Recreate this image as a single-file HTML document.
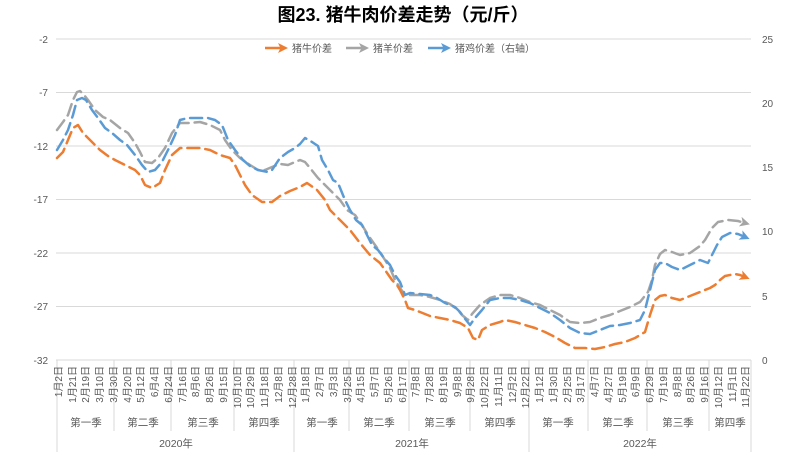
<!DOCTYPE html>
<html><head><meta charset="utf-8"><style>
body{margin:0;background:#fff;}
svg{display:block;font-family:"Liberation Sans","Noto Sans CJK SC",sans-serif;}
</style></head><body>
<svg width="807" height="464" viewBox="0 0 807 464" xmlns="http://www.w3.org/2000/svg">
<defs>
<marker id="ao" markerWidth="4" markerHeight="4" refX="2" refY="2" orient="auto" markerUnits="strokeWidth"><path d="M0,0 L4,2 L0,4 L1,2 z" fill="#ED7D31"/></marker>
<marker id="ag" markerWidth="4" markerHeight="4" refX="2" refY="2" orient="auto" markerUnits="strokeWidth"><path d="M0,0 L4,2 L0,4 L1,2 z" fill="#A5A5A5"/></marker>
<marker id="ab" markerWidth="4" markerHeight="4" refX="2" refY="2" orient="auto" markerUnits="strokeWidth"><path d="M0,0 L4,2 L0,4 L1,2 z" fill="#5B9BD5"/></marker>
</defs>
<text x="403" y="21" text-anchor="middle" font-size="18" font-weight="bold" fill="#000">图23. 猪牛肉价差走势（元/斤）</text>
<g stroke="#d9d9d9" stroke-width="1">
<line x1="56" y1="39" x2="751" y2="39"/><line x1="56" y1="92.5" x2="751" y2="92.5"/><line x1="56" y1="146" x2="751" y2="146"/><line x1="56" y1="199.5" x2="751" y2="199.5"/><line x1="56" y1="253" x2="751" y2="253"/><line x1="56" y1="306.5" x2="751" y2="306.5"/><line x1="56" y1="360" x2="751" y2="360"/>
<line x1="57" y1="360" x2="57" y2="452"/><line x1="294" y1="360" x2="294" y2="452"/><line x1="529" y1="360" x2="529" y2="452"/><line x1="751" y1="360" x2="751" y2="452"/>
<line x1="114" y1="360" x2="114" y2="431"/><line x1="171" y1="360" x2="171" y2="431"/><line x1="234" y1="360" x2="234" y2="431"/><line x1="349" y1="360" x2="349" y2="431"/><line x1="409" y1="360" x2="409" y2="431"/><line x1="470" y1="360" x2="470" y2="431"/><line x1="588" y1="360" x2="588" y2="431"/><line x1="647" y1="360" x2="647" y2="431"/><line x1="709" y1="360" x2="709" y2="431"/>
</g>
<g font-size="10" fill="#595959" text-anchor="end">
<text x="48" y="43">-2</text><text x="48" y="96">-7</text><text x="48" y="150">-12</text><text x="48" y="203">-17</text><text x="48" y="257">-22</text><text x="48" y="310">-27</text><text x="48" y="364">-32</text>
</g>
<g font-size="10" fill="#595959">
<text x="762" y="43">25</text><text x="762" y="107">20</text><text x="762" y="171">15</text><text x="762" y="235">10</text><text x="762" y="300">5</text><text x="762" y="364">0</text>
</g>
<g font-size="10.5" fill="#595959" text-anchor="middle">
<text x="86" y="426">第一季</text><text x="143" y="426">第二季</text><text x="203" y="426">第三季</text><text x="264" y="426">第四季</text>
<text x="322" y="426">第一季</text><text x="379" y="426">第二季</text><text x="440" y="426">第三季</text><text x="500" y="426">第四季</text>
<text x="558" y="426">第一季</text><text x="618" y="426">第二季</text><text x="678" y="426">第三季</text><text x="730" y="426">第四季</text>
<text x="176" y="447">2020年</text><text x="412" y="447">2021年</text><text x="640" y="447">2022年</text>
</g>
<g fill="none" stroke-width="2.5" stroke-dasharray="12,6" stroke-linecap="round" stroke-linejoin="round">
<polyline stroke="#A5A5A5" marker-end="url(#ag)" points="57,130 63,122 68,115 73,100 77,92 80,91 84,95 88,100 95,110 103,117 110,120 120,128 128,133 135,143 140,152 145,162 152,163 158,158 165,148 172,133 180,123 190,123 200,122 210,125 220,130 225,140 232,150 240,158 250,165 258,170 265,170 272,167 280,164 288,165 295,162 300,160 305,162 310,168 318,178 325,185 330,190 335,195 340,200 347,210 355,215 362,225 368,235 375,245 380,252 385,260 390,268 395,280 400,288 405,295 412,295 420,295 430,297 440,300 450,304 458,310 462,315 468,320 472,314 480,305 490,298 500,295 510,295 520,298 530,302 540,305 550,310 560,315 570,322 580,323 590,322 600,318 610,315 620,311 630,307 640,302 648,292 652,280 655,265 660,254 665,250 672,252 680,255 690,253 700,246 705,240 712,228 718,222 728,220 738,221 745,223"/>
<polyline stroke="#5B9BD5" marker-end="url(#ab)" points="57,150 63,140 68,130 73,115 77,100 82,98 86,100 92,110 98,118 105,128 112,133 120,140 127,145 135,155 142,165 148,172 155,170 162,162 168,150 175,135 180,120 188,118 198,118 208,118 215,120 222,125 228,140 235,150 243,160 250,166 258,170 268,172 272,170 280,158 288,152 295,148 300,144 305,138 312,142 318,146 322,160 328,170 333,180 338,183 345,200 350,210 356,220 362,225 367,235 372,245 378,250 384,258 390,265 395,275 400,282 405,295 410,293 420,294 430,295 437,298 445,303 455,307 460,312 466,320 470,325 475,318 482,310 490,300 500,298 510,298 520,300 530,303 540,308 550,313 560,320 570,328 580,333 590,334 600,330 610,326 620,325 630,323 640,320 645,310 650,290 655,270 660,263 665,263 672,267 680,270 690,265 700,260 708,263 712,255 717,245 722,237 730,233 738,234 745,237"/>
<polyline stroke="#ED7D31" marker-end="url(#ao)" points="57,158 63,152 68,140 73,128 78,125 83,133 90,140 100,150 108,156 115,160 125,165 135,170 140,175 145,185 152,188 160,183 165,170 172,155 180,148 190,148 200,148 210,150 220,155 230,158 235,165 240,175 245,185 252,195 262,202 272,202 280,196 290,191 300,187 307,183 317,190 325,200 330,210 340,220 350,230 360,243 370,255 380,263 385,270 392,280 397,285 400,290 405,300 408,308 415,310 420,312 430,316 440,318 450,320 460,323 468,328 473,338 478,340 482,330 490,325 500,322 505,320 515,322 525,325 535,328 545,332 555,337 565,343 575,348 585,348 595,349 605,347 615,344 625,342 635,338 645,332 650,315 655,300 660,296 665,295 672,298 680,300 690,296 700,292 705,290 710,288 715,285 720,280 725,276 735,274 740,275 745,277"/>
</g>
<g font-size="10" fill="#595959">
<line x1="265" y1="48" x2="283" y2="48" stroke="#ED7D31" stroke-width="2.5" marker-end="url(#ao)"/>
<text x="292" y="52">猪牛价差</text>
<line x1="346" y1="48" x2="364" y2="48" stroke="#A5A5A5" stroke-width="2.5" marker-end="url(#ag)"/>
<text x="373" y="52">猪羊价差</text>
<line x1="428" y1="48" x2="446" y2="48" stroke="#5B9BD5" stroke-width="2.5" marker-end="url(#ab)"/>
<text x="455" y="52">猪鸡价差（右轴）</text>
</g>
<g font-size="10" fill="#595959" text-anchor="end">
<text transform="translate(62,366) rotate(-90)">1月2日</text>
<text transform="translate(76,366) rotate(-90)">1月21日</text>
<text transform="translate(89,366) rotate(-90)">2月19日</text>
<text transform="translate(103,366) rotate(-90)">3月10日</text>
<text transform="translate(117,366) rotate(-90)">3月30日</text>
<text transform="translate(131,366) rotate(-90)">4月20日</text>
<text transform="translate(144,366) rotate(-90)">5月12日</text>
<text transform="translate(158,366) rotate(-90)">6月4日</text>
<text transform="translate(172,366) rotate(-90)">6月24日</text>
<text transform="translate(186,366) rotate(-90)">7月16日</text>
<text transform="translate(199,366) rotate(-90)">8月6日</text>
<text transform="translate(213,366) rotate(-90)">8月26日</text>
<text transform="translate(227,366) rotate(-90)">9月15日</text>
<text transform="translate(241,366) rotate(-90)">10月10日</text>
<text transform="translate(254,366) rotate(-90)">10月29日</text>
<text transform="translate(268,366) rotate(-90)">11月18日</text>
<text transform="translate(282,366) rotate(-90)">12月8日</text>
<text transform="translate(296,366) rotate(-90)">12月28日</text>
<text transform="translate(309,366) rotate(-90)">1月18日</text>
<text transform="translate(323,366) rotate(-90)">2月7日</text>
<text transform="translate(337,366) rotate(-90)">3月3日</text>
<text transform="translate(351,366) rotate(-90)">3月25日</text>
<text transform="translate(364,366) rotate(-90)">4月15日</text>
<text transform="translate(378,366) rotate(-90)">5月7日</text>
<text transform="translate(392,366) rotate(-90)">5月26日</text>
<text transform="translate(406,366) rotate(-90)">6月17日</text>
<text transform="translate(419,366) rotate(-90)">7月8日</text>
<text transform="translate(433,366) rotate(-90)">7月28日</text>
<text transform="translate(447,366) rotate(-90)">8月19日</text>
<text transform="translate(461,366) rotate(-90)">9月8日</text>
<text transform="translate(474,366) rotate(-90)">9月28日</text>
<text transform="translate(488,366) rotate(-90)">10月22日</text>
<text transform="translate(502,366) rotate(-90)">11月11日</text>
<text transform="translate(516,366) rotate(-90)">12月2日</text>
<text transform="translate(529,366) rotate(-90)">12月22日</text>
<text transform="translate(543,366) rotate(-90)">1月12日</text>
<text transform="translate(557,366) rotate(-90)">1月30日</text>
<text transform="translate(571,366) rotate(-90)">2月25日</text>
<text transform="translate(584,366) rotate(-90)">3月17日</text>
<text transform="translate(598,366) rotate(-90)">4月7日</text>
<text transform="translate(612,366) rotate(-90)">4月27日</text>
<text transform="translate(626,366) rotate(-90)">5月19日</text>
<text transform="translate(639,366) rotate(-90)">6月9日</text>
<text transform="translate(653,366) rotate(-90)">6月29日</text>
<text transform="translate(667,366) rotate(-90)">7月19日</text>
<text transform="translate(681,366) rotate(-90)">8月8日</text>
<text transform="translate(694,366) rotate(-90)">8月26日</text>
<text transform="translate(708,366) rotate(-90)">9月16日</text>
<text transform="translate(722,366) rotate(-90)">10月12日</text>
<text transform="translate(736,366) rotate(-90)">11月1日</text>
<text transform="translate(749,366) rotate(-90)">11月22日</text>
</g>
</svg>
</body></html>
